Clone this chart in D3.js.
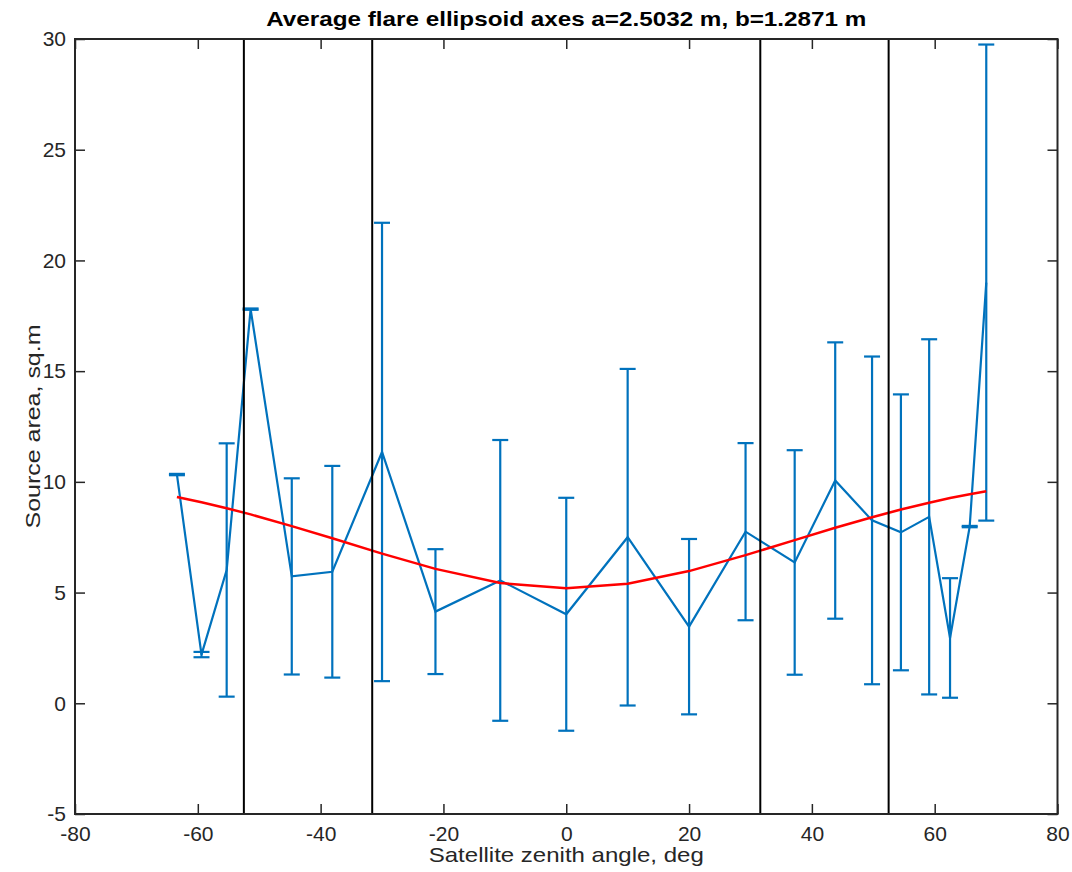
<!DOCTYPE html>
<html>
<head>
<meta charset="utf-8">
<script src="https://cdn.jsdelivr.net/npm/d3@7/dist/d3.min.js"></script>
<style>
  html, body { margin: 0; padding: 0; background: #fff; }
  svg { display: block; font-family: "Liberation Sans", Arial, Helvetica, sans-serif; }
</style>
</head>
<body>
<svg id="chart" width="1072" height="872"></svg>
<script>
// Measured source area per satellite zenith angle, with error half-widths
const angles = [-63.4, -59.4, -55.3, -51.4, -44.7, -38.1, -30.0, -21.3, -10.75, 0, 10, 20, 29.2, 37.2, 43.8, 49.8, 54.5, 59.1, 62.5, 65.7, 68.4];
const area   = [10.33, 2.2, 6.02, 17.8, 5.73, 5.94, 11.35, 4.14, 5.55, 4.02, 7.5, 3.46, 7.75, 6.36, 10.06, 8.26, 7.72, 8.42, 2.95, 7.98, 19.0];
const errors = [0.03, 0.12, 5.72, 0.03, 4.43, 4.78, 10.35, 2.82, 6.34, 5.26, 7.6, 3.96, 4.0, 5.07, 6.24, 7.4, 6.23, 8.02, 2.7, 0.03, 10.75];

// Projected area of the average flare ellipsoid at the same angles
const modelArea = [9.32, 9.08, 8.81, 8.53, 8.00, 7.45, 6.76, 6.07, 5.43, 5.19, 5.40, 5.97, 6.69, 7.37, 7.93, 8.40, 8.75, 9.06, 9.27, 9.44, 9.58];

// Angle boundaries marked with vertical lines
const boundaries = [-52.5, -31.6, 31.6, 52.5];

const xTicks = [-80, -60, -40, -20, 0, 20, 40, 60, 80];
const yTicks = [-5, 0, 5, 10, 15, 20, 25, 30];

const titleText = "Average flare ellipsoid axes a=2.5032 m, b=1.2871 m";
const xLabel = "Satellite zenith angle, deg";
const yLabel = "Source area, sq.m";

const svg = d3.select("#chart");
const margin = { left: 75, right: 1057.5, top: 39, bottom: 814 };

const x = d3.scaleLinear().domain([-80, 80]).range([margin.left, margin.right]);
const y = d3.scaleLinear().domain([-5, 30]).range([margin.bottom, margin.top]);

const blue = "#0072BD";
const axisColor = "#262626";
const tickLen = 10;

const points = angles.map((a, i) => ({ a, v: area[i], e: errors[i], m: modelArea[i] }));

// Error bars
const eb = svg.append("g").attr("stroke", blue).attr("stroke-width", 2.2).attr("fill", "none");
points.forEach(p => {
  const cx = x(p.a);
  eb.append("line").attr("x1", cx).attr("x2", cx).attr("y1", y(p.v - p.e)).attr("y2", y(p.v + p.e));
  [p.v - p.e, p.v + p.e].forEach(val => {
    eb.append("line").attr("x1", cx - 8).attr("x2", cx + 8).attr("y1", y(val)).attr("y2", y(val));
  });
});

// Measured series
svg.append("path")
  .datum(points)
  .attr("fill", "none")
  .attr("stroke", blue)
  .attr("stroke-width", 2.2)
  .attr("d", d3.line().x(d => x(d.a)).y(d => y(d.v)));

// Model curve
svg.append("path")
  .datum(points)
  .attr("fill", "none")
  .attr("stroke", "#FF0000")
  .attr("stroke-width", 2.5)
  .attr("d", d3.line().x(d => x(d.a)).y(d => y(d.m)));

// Boundary lines
svg.append("g").selectAll("line").data(boundaries).join("line")
  .attr("x1", d => x(d)).attr("x2", d => x(d))
  .attr("y1", margin.top).attr("y2", margin.bottom)
  .attr("stroke", "#000").attr("stroke-width", 2);

// Axes: box with inward ticks on all four sides
const fmt = d => String(d);
const axBottom = d3.axisBottom(x).tickValues(xTicks).tickFormat(fmt).tickSizeInner(-tickLen).tickSizeOuter(0).tickPadding(12);
const axTop = d3.axisTop(x).tickValues(xTicks).tickSizeInner(-tickLen).tickSizeOuter(0).tickFormat("");
const axLeft = d3.axisLeft(y).tickValues(yTicks).tickFormat(fmt).tickSizeInner(-tickLen).tickSizeOuter(0).tickPadding(9);
const axRight = d3.axisRight(y).tickValues(yTicks).tickSizeInner(-tickLen).tickSizeOuter(0).tickFormat("");

function styleAxis(g) {
  g.select(".domain").remove();
  g.selectAll(".tick line").attr("stroke", axisColor).attr("stroke-width", 1.5);
  g.selectAll(".tick text").attr("fill", axisColor).attr("font-size", 21)
    .attr("font-family", "'Liberation Sans', Arial, Helvetica, sans-serif");
}

svg.append("g").attr("transform", `translate(0,${margin.bottom})`).call(axBottom).call(styleAxis);
svg.append("g").attr("transform", `translate(0,${margin.top})`).call(axTop).call(styleAxis);
svg.append("g").attr("transform", `translate(${margin.left},0)`).call(axLeft).call(styleAxis);
svg.append("g").attr("transform", `translate(${margin.right},0)`).call(axRight).call(styleAxis);

svg.append("rect")
  .attr("x", margin.left).attr("y", margin.top)
  .attr("width", margin.right - margin.left).attr("height", margin.bottom - margin.top)
  .attr("fill", "none").attr("stroke", axisColor).attr("stroke-width", 2);

// Title and axis labels
const midX = (margin.left + margin.right) / 2;
svg.append("text")
  .attr("x", midX).attr("y", 26)
  .attr("text-anchor", "middle").attr("font-weight", "bold").attr("font-size", 21)
  .attr("textLength", 600).attr("lengthAdjust", "spacingAndGlyphs")
  .attr("fill", "#000").text(titleText);

svg.append("text")
  .attr("x", midX).attr("y", 862)
  .attr("text-anchor", "middle").attr("font-size", 21)
  .attr("textLength", 275).attr("lengthAdjust", "spacingAndGlyphs")
  .attr("fill", axisColor).text(xLabel);

svg.append("text")
  .attr("transform", `translate(40,${(margin.top + margin.bottom) / 2}) rotate(-90)`)
  .attr("text-anchor", "middle").attr("font-size", 21)
  .attr("textLength", 204).attr("lengthAdjust", "spacingAndGlyphs")
  .attr("fill", axisColor).text(yLabel);
</script>
</body>
</html>
